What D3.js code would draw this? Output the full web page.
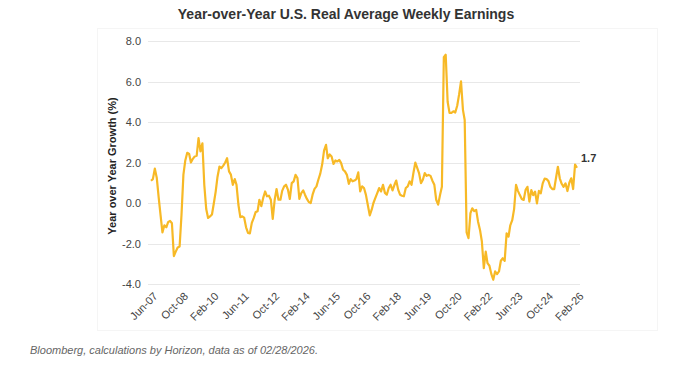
<!DOCTYPE html>
<html>
<head>
<meta charset="utf-8">
<script src="https://cdn.jsdelivr.net/npm/d3@7"></script>
<style>
  html, body { margin: 0; padding: 0; background: #ffffff; }
  svg { display: block; font-family: "Liberation Sans", Arial, Helvetica, sans-serif; }
</style>
</head>
<body>
<svg id="chart" width="700" height="382"></svg>
<script>
// ---- Data (monthly, Jun 2007 .. Feb 2026) ----
const startMonth = "2007-06";
const endMonth = "2026-02";
const yoyGrowth = [
  1.10, 1.18, 1.70, 1.25, 0.30, -0.60, -1.45, -1.10, -1.20, -0.95, -0.88, -1.00,
  -2.62, -2.40, -2.20, -2.15, -0.60, 1.40, 2.10, 2.48, 2.42, 2.00, 2.18, 2.30,
  2.33, 3.20, 2.55, 2.95, 0.90, -0.30, -0.74, -0.66, -0.57, -0.05, 0.55, 1.30,
  1.80, 1.72, 1.85, 2.00, 2.21, 1.56, 1.40, 0.90, 1.18, 0.90, -0.10, -0.70,
  -0.66, -0.72, -1.20, -1.48, -1.50, -0.98, -0.75, -0.45, -0.41, 0.16, -0.16, 0.25,
  0.57, 0.33, 0.36, 0.16, -0.79, 0.16, 0.69, 0.16, 0.16, 0.60, 0.82, 0.90,
  0.66, 0.20, 0.98, 1.07, 1.39, 1.23, 0.20, 0.49, 0.62, 0.41, 0.20, 0.05,
  0.00, 0.41, 0.70, 0.82, 1.15, 1.45, 1.90, 2.60, 2.87, 2.21, 2.40, 2.30,
  1.93, 2.10, 2.05, 2.13, 1.97, 1.64, 1.56, 1.39, 0.95, 1.18, 1.07, 1.11,
  1.18, 1.51, 0.57, 0.82, 0.74, 0.40, -0.10, -0.61, -0.33, 0.00, 0.25, 0.49,
  0.74, 0.57, 0.90, 0.50, 0.41, 0.74, 0.90, 0.62, 0.90, 1.11, 0.66, 0.41,
  0.36, 0.33, 0.74, 0.82, 1.07, 0.90, 1.48, 2.00, 1.72, 1.48, 0.98, 1.15,
  1.48, 1.34, 1.39, 1.34, 1.10, 0.90, 0.16, -0.08, 0.41, 0.80, 7.20, 7.32,
  5.00, 4.45, 4.45, 4.53, 4.47, 4.80, 5.35, 6.01, 4.60, 4.10, -1.45, -1.74,
  -0.50, -0.26, -0.40, -0.34, -0.92, -1.33, -1.90, -3.22, -2.40, -2.97, -3.10, -3.50,
  -3.79, -3.38, -3.51, -3.38, -2.85, -2.73, -2.86, -1.50, -1.66, -1.10, -0.85, -0.30,
  0.90, 0.60, 0.39, 0.20, 0.15, 0.65, 0.80, 0.07, 0.64, 0.39, 0.56, -0.02,
  0.60, 0.48, 0.97, 1.20, 1.18, 1.08, 0.80, 0.69, 0.69, 1.22, 1.79, 1.22,
  0.95, 0.80, 0.97, 0.59, 1.00, 1.22, 0.69, 1.90, 1.74
];
const xTickLabels = ["Jun-07","Oct-08","Feb-10","Jun-11","Oct-12","Feb-14","Jun-15","Oct-16",
                     "Feb-18","Jun-19","Oct-20","Feb-22","Jun-23","Oct-24","Feb-26"];
const yTickValues = [-4, -2, 0, 2, 4, 6, 8];
const lastLabel = "1.7";
const titleText = "Year-over-Year U.S. Real Average Weekly Earnings";
const yAxisTitle = "Year over Year Growth (%)";
const sourceText = "Bloomberg, calculations by Horizon, data as of 02/28/2026.";

// ---- Build ----
const parseMonth = d3.timeParse("%Y-%m");
const parseTick = d3.timeParse("%b-%y");
const t0 = parseMonth(startMonth);
const data = yoyGrowth.map((v, i) => ({ date: d3.timeMonth.offset(t0, i), value: v }));
const tickDates = xTickLabels.map(s => parseTick(s));

const svg = d3.select("#chart");

const x = d3.scaleTime()
  .domain([t0, parseMonth(endMonth)])
  .range([151, 577]);
const y = d3.scaleLinear()
  .domain([-4, 8])
  .range([284, 41]);

// faint panel border
svg.append("rect")
  .attr("x", 97.5).attr("y", 28.5).attr("width", 560).attr("height", 302)
  .attr("fill", "none").attr("stroke", "#f5f5f5").attr("stroke-width", 1);

// gridlines
svg.append("g")
  .selectAll("line")
  .data(yTickValues)
  .join("line")
  .attr("x1", 148).attr("x2", 580)
  .attr("y1", d => Math.round(y(d)) + 0.5)
  .attr("y2", d => Math.round(y(d)) + 0.5)
  .attr("stroke", "#e8e8e8").attr("stroke-width", 1);

// y axis labels
const yAxis = d3.axisLeft(y).tickValues(yTickValues).tickFormat(d => d.toFixed(1)).tickSize(0).tickPadding(0);
const gy = svg.append("g").attr("transform", "translate(141,0)").call(yAxis);
gy.select(".domain").remove();
gy.selectAll("text")
  .attr("fill", "#444").attr("font-size", 11)
  .attr("font-family", "Liberation Sans, Arial, sans-serif");

// x axis labels
const xAxis = d3.axisBottom(x).tickValues(tickDates).tickFormat(d3.timeFormat("%b-%y")).tickSize(0);
const gx = svg.append("g").attr("transform", "translate(0,288)").call(xAxis);
gx.select(".domain").remove();
gx.selectAll("text")
  .attr("fill", "#444").attr("font-size", 11)
  .attr("font-family", "Liberation Sans, Arial, sans-serif")
  .attr("text-anchor", "end")
  .attr("dy", "0.35em")
  .attr("transform", "translate(2,4) rotate(-45)");

// line
const line = d3.line().x(d => x(d.date)).y(d => y(d.value));
svg.append("path")
  .datum(data)
  .attr("fill", "none")
  .attr("stroke", "#F7B926")
  .attr("stroke-width", 2.2)
  .attr("stroke-linejoin", "round")
  .attr("d", line);

// last value label
const last = data[data.length - 1];
svg.append("text")
  .attr("x", x(last.date) + 4)
  .attr("y", y(last.value) - 6)
  .attr("font-size", 11).attr("font-weight", "bold").attr("fill", "#333")
  .text(lastLabel);

// title
svg.append("text")
  .attr("x", 346).attr("y", 19)
  .attr("text-anchor", "middle")
  .attr("font-size", 14).attr("font-weight", "bold").attr("fill", "#333")
  .text(titleText);

// y axis title
svg.append("text")
  .attr("transform", "translate(116,166) rotate(-90)")
  .attr("text-anchor", "middle")
  .attr("font-size", 11).attr("font-weight", "bold").attr("fill", "#222")
  .text(yAxisTitle);

// source
svg.append("text")
  .attr("x", 30).attr("y", 354)
  .attr("font-size", 11).attr("font-style", "italic").attr("fill", "#666")
  .text(sourceText);
</script>
</body>
</html>
